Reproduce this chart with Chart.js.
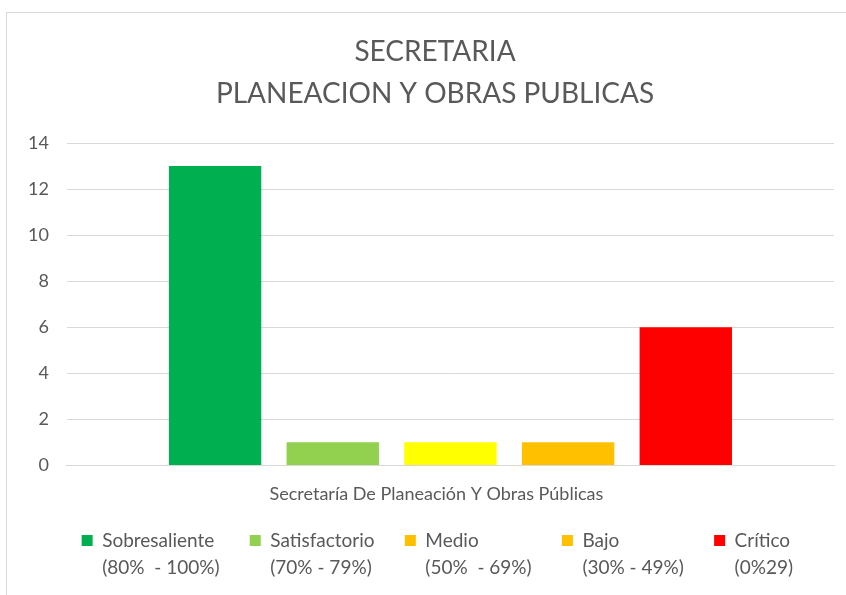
<!DOCTYPE html>
<html lang="es">
<head>
    <meta charset="UTF-8">
    <title>Secretaria Planeacion y Obras Publicas</title>
    <script src="https://cdn.jsdelivr.net/npm/chart.js"></script>
    <style>
        html, body { margin: 0; padding: 0; background: #fff; overflow: hidden; }
        #frame {
            position: absolute; left: 6px; top: 12px;
            width: 860px; height: 582px;
            border: 1px solid #d9d9d9;
        }
    </style>
</head>
<body>
    <div id="frame"><canvas id="chart"></canvas></div>
    <script>
        // data
        const categories = ['Secretaría De Planeación Y Obras Públicas'];
        const seriesNames = ['Sobresaliente', 'Satisfactorio', 'Medio', 'Bajo', 'Crítico'];
        const seriesRanges = ['(80%  - 100%)', '(70% - 79%)', '(50%  - 69%)', '(30% - 49%)', '(0%29)'];
        const seriesValues = [13, 1, 1, 1, 6];
        const barColors = ['#00B050', '#92D050', '#FFFF00', '#FFC000', '#FF0000'];
        const legendColors = ['#00B050', '#92D050', '#FFC000', '#FFC000', '#FF0000'];
        const yTicks = [0, 2, 4, 6, 8, 10, 12, 14];

        const font = 'Lato, "Open Sans", sans-serif';
        const grey = '#595959';
        const legendSize = 19;
        const legendLine = 27;

        // legend lays out the boxes, this draws the two text lines in them;
        // title and legend sit a bit right of the canvas centre in the original
        const twoLineLegend = {
            id: 'twoLineLegend',
            afterUpdate(c) {
                const lg = c.legend;
                const dx = 21;
                lg.left += dx;
                lg.right += dx;
                lg.legendHitBoxes.forEach(hb => { hb.left += dx; });
                c.titleBlock.left += 13;
                c.titleBlock.right += 13;
            },
            afterDraw(c) {
                const lg = c.legend;
                const g = c.ctx;
                g.save();
                g.font = legendSize + 'px ' + font;
                g.fillStyle = grey;
                g.textAlign = 'left';
                g.textBaseline = 'middle';
                lg.legendHitBoxes.forEach((hb, i) => {
                    const x = hb.left + lg.options.labels.boxWidth + legendSize / 2;
                    const y = hb.top + hb.height / 2;
                    g.fillText(seriesNames[i], x, y);
                    g.fillText(seriesRanges[i], x, y + legendLine);
                });
                g.restore();
            }
        };

        const ctx = document.getElementById('chart').getContext('2d');
        const chart = new Chart(ctx, {
            type: 'bar',
            data: {
                labels: categories,
                datasets: seriesValues.map((v, i) => ({
                    label: seriesNames[i],
                    data: [v],
                    backgroundColor: barColors[i],
                    borderWidth: 0,
                    categoryPercentage: 0.767,
                    barPercentage: 0.785,
                })),
            },
            options: {
                responsive: true,
                maintainAspectRatio: false,
                animation: false,
                layout: { padding: { left: 3, right: 33, top: 6, bottom: 35 } },
                plugins: {
                    title: {
                        display: true,
                        text: ['SECRETARIA', 'PLANEACION Y OBRAS PUBLICAS'],
                        color: grey,
                        font: { family: font, size: 28, weight: 'normal', lineHeight: 1.5 },
                        padding: { top: 12, bottom: 28 },
                    },
                    legend: {
                        position: 'bottom',
                        labels: {
                            color: grey,
                            font: { family: font, size: legendSize },
                            boxWidth: 11,
                            boxHeight: 11,
                            padding: 16,
                            generateLabels: (c) => c.data.datasets.map((ds, i) => ({
                                // the longer line (plus a gap) sets the item width
                                text: (seriesNames[i].length > seriesRanges[i].length ? seriesNames[i] : seriesRanges[i]) + '\u2003',
                                fillStyle: legendColors[i],
                                strokeStyle: legendColors[i],
                                lineWidth: 0,
                                fontColor: 'rgba(0,0,0,0)',
                                datasetIndex: i,
                                hidden: false,
                            })),
                        },
                    },
                    tooltip: { enabled: false },
                },
                scales: {
                    x: {
                        grid: { display: false },
                        border: { color: '#d9d9d9', width: 1 },
                        ticks: { color: grey, font: { family: font, size: 18 }, padding: 10, labelOffset: -14 },
                    },
                    y: {
                        min: 0,
                        max: 14,
                        afterBuildTicks: (s) => { s.ticks = yTicks.map(v => ({ value: v })); },
                        grid: { color: '#d9d9d9', drawTicks: false },
                        border: { display: false },
                        ticks: { color: grey, font: { family: font, size: 18 }, padding: 18 },
                    },
                },
            },
            plugins: [twoLineLegend],
        });
    </script>
</body>
</html>
